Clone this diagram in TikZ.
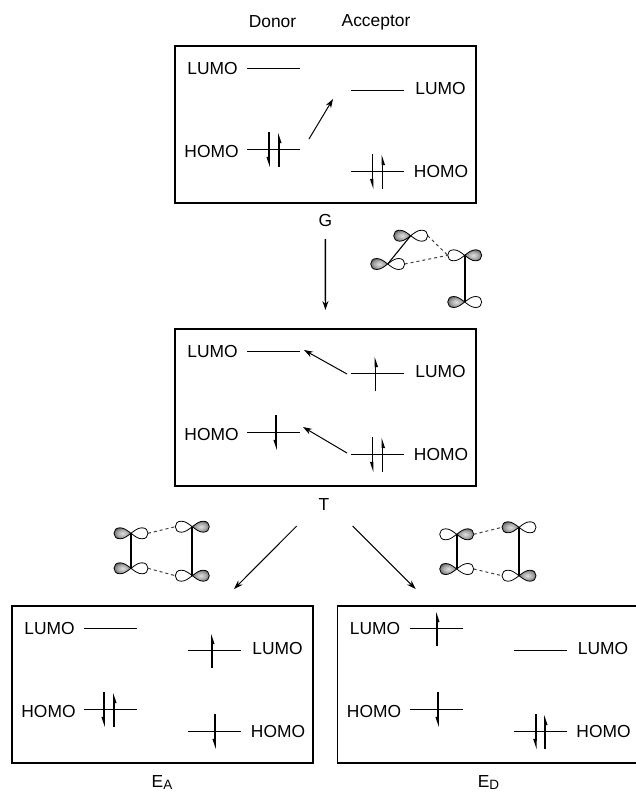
\documentclass[tikz,border=0pt]{standalone}
\usepackage{fontspec}
\setmainfont{Liberation Sans}
\usetikzlibrary{arrows.meta}
\pgfdeclareradialshading{lobeshade}{\pgfpoint{0bp}{0bp}}{color(0bp)=(black!12); color(16bp)=(black!35); color(32bp)=(black!70); color(44bp)=(black!95); color(50bp)=(black)}
\tikzset{
    mobox/.style={draw, line width=1.9pt, minimum width=301pt, minimum height=157pt, inner sep=0pt},
    moltext/.style={font=\fontsize{17.4}{19}\selectfont, inner sep=0pt},
    orblevel/.style={line width=0.8pt},
    spinarrow/.style={line width=1.7pt, -{Stealth[harpoon,swap,length=8pt,width=4.5pt,inset=0pt]}},
    rxnarrow/.style={line width=1pt, -{Stealth[length=9pt,width=6pt]}},
    bondthin/.style={line width=1.1pt},
    bondthick/.style={line width=1.8pt},
    overlap/.style={line width=1pt, black!75, dash pattern=on 3pt off 3pt},
    lobe/.style={draw, line width=0.8pt}
}
% box with its four levels, #1 name, #2 #3 top left corner
\newcommand{\mostate}[3]{
    \node[mobox] (#1) at (#2+150.5,#3+78.5) {};
    \begin{scope}[shift={(#2,#3)}]
        \foreach \lev/\lx/\ly in {dl/72/22,dh/72/103,al/176/44,ah/176/125}{
            \coordinate (#1-\lev) at (\lx+26.5,\ly);
            \coordinate (#1-\lev-l) at (\lx,\ly);
            \coordinate (#1-\lev-r) at (\lx+53,\ly);
            \draw[orblevel] (#1-\lev-l)--(#1-\lev-r);
        }
        \node[moltext] (#1-tdl) at (37.5,23) {LUMO};
        \node[moltext] (#1-tdh) at (36.5,106) {HOMO};
        \node[moltext] (#1-tal) at (265.5,43) {LUMO};
        \node[moltext] (#1-tah) at (266,126) {HOMO};
    \end{scope}
}
\newcommand{\spinup}[2]{\draw[spinarrow] (#1) ++(#2,18)--++(0,-35);}
\newcommand{\spindown}[2]{\draw[spinarrow] (#1) ++(#2,-17)--++(0,36);}
\newcommand{\subcap}[1]{\raisebox{-2.2pt}{\fontsize{13.5}{14}\selectfont #1}}
% p orbital, #1 name, #2 #3 centre, #4 side of the shaded lobe
\newcommand{\porb}[4]{
    \begin{scope}[shift={(#2,#3)},xscale=#4]
        \coordinate (#1) at (0,0);
        \coordinate (#1-s) at (17,0);
        \coordinate (#1-w) at (-17,0);
        \path[lobe, shading=lobeshade] (0,0) .. controls (4,-3) and (7,-5.5) .. (11,-5.5) .. controls (15,-5.5) and (17,-3) .. (17,0) .. controls (17,3) and (15,5.5) .. (11,5.5) .. controls (7,5.5) and (4,3) .. (0,0);
        \path[lobe, fill=white] (0,0) .. controls (-4,-3) and (-7,-5.5) .. (-11,-5.5) .. controls (-15,-5.5) and (-17,-3) .. (-17,0) .. controls (-17,3) and (-15,5.5) .. (-11,5.5) .. controls (-7,5.5) and (-4,3) .. (0,0);
    \end{scope}
}
\begin{document}
\begin{tikzpicture}[x=1pt,y=-1pt]
    \useasboundingbox (0,0) rectangle (636,792);
    \clip (0,0) rectangle (636,792);
    \node[moltext, anchor=base] (donor) at (272.5,28) {Donor};
    \node[moltext, anchor=base] (acceptor) at (376,26.7) {Acceptor};

    \mostate{G}{175}{46}
    \mostate{T}{175}{329}
    \mostate{EA}{12}{606}
    \mostate{ED}{337.5}{606}

    \node[moltext] (Gcap) at (325.3,220.7) {G};
    \node[moltext] (Tcap) at (324,505) {T};
    \node[moltext, anchor=base] (EAcap) at (162,787.5) {E\subcap{A}};
    \node[moltext, anchor=base] (EDcap) at (488.5,787.5) {E\subcap{D}};

    % electrons
    \spindown{G-dh}{-4.5}
    \spinup{G-dh}{5.5}
    \spindown{G-ah}{-5}
    \spinup{G-ah}{5}
    \spinup{T-al}{-2}
    \spindown{T-dh}{2.5}
    \spindown{T-ah}{-5}
    \spinup{T-ah}{5}
    \spinup{EA-al}{-2.5}
    \spindown{EA-dh}{-6.5}
    \spinup{EA-dh}{3.5}
    \spindown{EA-ah}{0.5}
    \spinup{ED-dl}{1}
    \spindown{ED-dh}{2}
    \spindown{ED-ah}{-4.3}
    \spinup{ED-ah}{5}

    % arrows
    \coordinate (Gfrom) at (309,139);
    \coordinate (Gto) at (333,99);
    \coordinate (Tlfrom) at (347,374);
    \coordinate (Tlto) at (304,350);
    \coordinate (Thfrom) at (347,453);
    \coordinate (Thto) at (303,427);
    \coordinate (TtoEAa) at (296.7,526);
    \coordinate (TtoEAb) at (234,589);
    \coordinate (TtoEDa) at (352.7,526);
    \coordinate (TtoEDb) at (415.7,589);
    \draw[rxnarrow] (Gfrom)--(Gto);
    \draw[rxnarrow] (Tlfrom)--(Tlto);
    \draw[rxnarrow] (Thfrom)--(Thto);
    \draw[rxnarrow] (TtoEAa)--(TtoEAb);
    \draw[rxnarrow] (TtoEDa)--(TtoEDb);
    \draw[rxnarrow, line width=1.4pt, shorten <=12pt, shorten >=18pt] (Gcap.south)--(T.north);

    % orbitals above T
    \porb{ga}{410.7}{235.7}{-1}
    \porb{gb}{387.7}{264}{-1}
    \porb{gc}{464.7}{255.3}{1}
    \porb{gd}{464.7}{302}{-1}
    \draw[bondthin] (ga)--(gb);
    \draw[bondthick] (gc)--(gd);
    \draw[overlap] (ga-w)--(gc-w);
    \draw[overlap] (gb-w)--(gc-w);

    % orbitals for EA
    \porb{aa}{131}{533.3}{-1}
    \porb{ab}{131}{568.3}{-1}
    \porb{ac}{192.3}{526.7}{1}
    \porb{ad}{192.3}{575.7}{1}
    \draw[bondthick] (aa)--(ab);
    \draw[bondthick] (ac)--(ad);
    \draw[overlap] (aa-w)--(ac-w);
    \draw[overlap] (ab-w)--(ad-w);

    % orbitals for ED
    \porb{da}{456.7}{534.3}{1}
    \porb{db}{456.7}{569}{-1}
    \porb{dc}{519}{527.3}{-1}
    \porb{dd}{519}{575.7}{1}
    \draw[bondthick] (da)--(db);
    \draw[bondthick] (dc)--(dd);
    \draw[overlap] (da-s)--(dc-s);
    \draw[overlap] (db-w)--(dd-w);
\end{tikzpicture}
\end{document}
